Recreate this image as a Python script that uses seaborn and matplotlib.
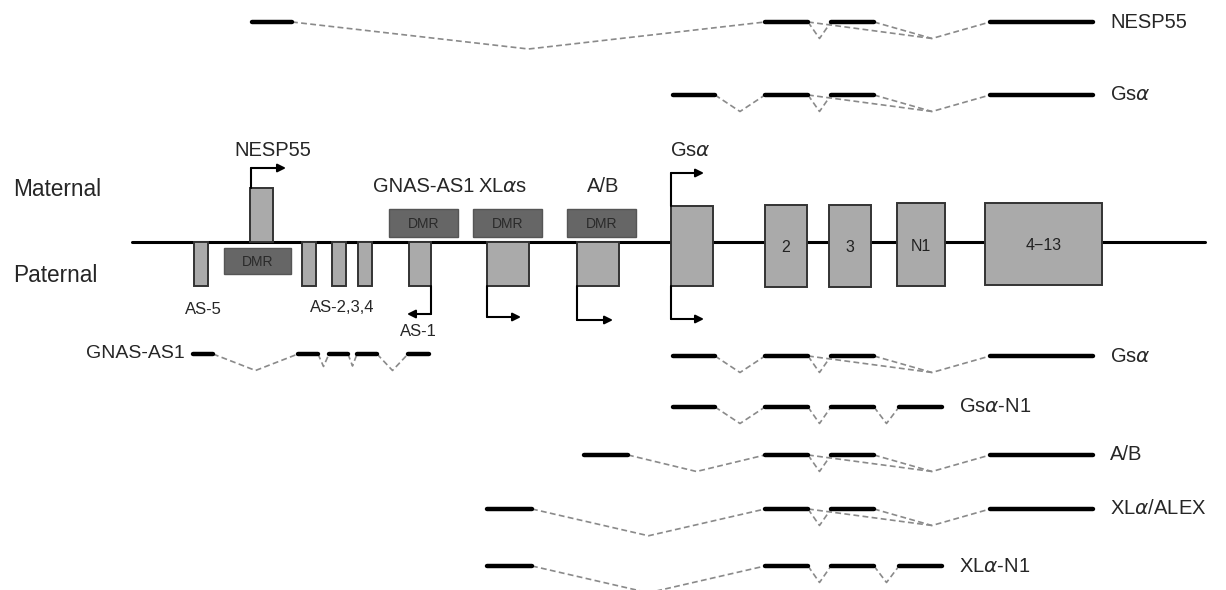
import numpy as np
import pandas as pd
import matplotlib.pyplot as plt
import seaborn as sns
from matplotlib.patches import Rectangle

# --- genomic map (pixel-like coordinates, y grows downwards) ---
LINE_Y = 242
LINE_X = (132, 1205)

# boxes hanging below the line (paternal promoters / antisense exons)
low_names = ["AS-5", "AS-2", "AS-3", "AS-4", "AS-1", "XLas", "A/B"]
low_left = [194, 302, 332, 358, 409, 487, 577]
low_right = [208, 316, 346, 372, 431, 529, 619]
low_bottom = 286

# NESP55 box above the line
nesp_box = (250, 273, 188)

# shared exons: Gsa exon 1, 2, 3, N1, 4-13
ex_names = ["", "2", "3", "N1", "4\u221213"]
ex_left = [671, 765, 829, 897, 985]
ex_right = [713, 807, 871, 945, 1102]
ex_top = [206, 205, 205, 203, 203]
ex_bottom = [286, 287, 287, 286, 285]

# DMR boxes
dmr_left = [224, 389, 473, 567]
dmr_right = [291, 458, 542, 636]
dmr_top = [248, 209, 209, 209]
dmr_bottom = [274, 237, 237, 237]

ALPHA = r"$\alpha$"

# --- transcripts ---
tx_names = ["NESP55", "Gs" + ALPHA, "GNAS-AS1", "Gs" + ALPHA, "Gs" + ALPHA + "-N1",
            "A/B", "XL" + ALPHA + "/ALEX", "XL" + ALPHA + "-N1"]
tx_y = [22, 95, 354, 356, 407, 455, 509, 566]
# exon segments (start, end)
tx_exons = [
    [(252, 292), (765, 808), (831, 874), (990, 1093)],
    [(673, 715), (765, 808), (831, 874), (990, 1093)],
    [(193, 213), (298, 318), (329, 348), (357, 377), (408, 429)],
    [(673, 715), (765, 808), (831, 874), (990, 1093)],
    [(673, 715), (765, 808), (831, 874), (899, 942)],
    [(584, 628), (765, 808), (831, 874), (990, 1093)],
    [(487, 532), (765, 808), (831, 874), (990, 1093)],
    [(487, 532), (765, 808), (831, 874), (899, 942)],
]
# extra splice: end of exon i jumps to the intron before exon j
tx_skip = [(1, 3), (1, 3), None, (1, 3), None, (1, 3), (1, 3), None]

# depth of the splice "V" against intron length
dip_gap = [10, 20, 140, 235]
dip_depth = [12, 16.5, 16.5, 27]


def dip(gap):
    return float(np.interp(gap, dip_gap, dip_depth))


sns.set_theme(style="white")
plt.rcParams["font.family"] = ["Liberation Sans", "DejaVu Sans"]
plt.rcParams["mathtext.fontset"] = "dejavusans"

fig = plt.figure(figsize=(12.26, 5.9), dpi=100)
ax = fig.add_axes([0, 0, 1, 1])
ax.set_xlim(0, 1226)
ax.set_ylim(590, 0)
ax.axis("off")

BOX = "#aaaaaa"
EDGE = "#333333"
DMR = "#666666"

# main chromosome line
ax.plot(LINE_X, [LINE_Y, LINE_Y], color="black", lw=2.2, zorder=1)

for l, r in zip(low_left, low_right):
    ax.add_patch(Rectangle((l, LINE_Y), r - l, low_bottom - LINE_Y, fc=BOX, ec=EDGE, lw=1.4, zorder=2))

l, r, t = nesp_box
ax.add_patch(Rectangle((l, t), r - l, LINE_Y - t, fc=BOX, ec=EDGE, lw=1.4, zorder=2))

for name, l, r, t, b in zip(ex_names, ex_left, ex_right, ex_top, ex_bottom):
    ax.add_patch(Rectangle((l, t), r - l, b - t, fc=BOX, ec=EDGE, lw=1.4, zorder=2))
    if name:
        ax.text((l + r) / 2, (t + b) / 2 + 2, name, ha="center", va="center", fontsize=11.5, color="#222222", zorder=3)

for l, r, t, b in zip(dmr_left, dmr_right, dmr_top, dmr_bottom):
    ax.add_patch(Rectangle((l, t), r - l, b - t, fc=DMR, ec="#555555", lw=1, zorder=2))
    ax.text((l + r) / 2, (t + b) / 2 + 1, "DMR", ha="center", va="center", fontsize=10, color="#2a2a2a", zorder=3)

# promoter arrows
arrow_kw = dict(arrowstyle="-|>", color="black", lw=1.5, mutation_scale=12, shrinkA=0, shrinkB=0)


def promoter(x0, y0, y1, x1):
    ax.plot([x0, x0], [y0, y1], color="black", lw=1.5, zorder=3)
    ax.annotate("", xy=(x1, y1), xytext=(x0, y1), arrowprops=arrow_kw, zorder=3)


promoter(251, nesp_box[2], 168, 286)          # NESP55
promoter(431, low_bottom, 314, 407)           # AS-1 (antisense)
promoter(487, low_bottom, 317, 521)           # XLas
promoter(577, low_bottom, 320, 613)           # A/B
promoter(671, ex_top[0], 173, 704)            # Gsa maternal
promoter(671, ex_bottom[0], 319, 704)         # Gsa paternal

ax.text(13, 190, "Maternal", ha="left", va="center", fontsize=16.3)
ax.text(13, 275, "Paternal", ha="left", va="center", fontsize=16.3)
ax.text(273, 150, "NESP55", ha="center", va="center", fontsize=14.5)
ax.text(424, 187, "GNAS-AS1", ha="center", va="center", fontsize=14.5)
ax.text(503, 187, "XL" + ALPHA + "s", ha="center", va="center", fontsize=14.5)
ax.text(603, 187, "A/B", ha="center", va="center", fontsize=14.5)
ax.text(690, 150, "Gs" + ALPHA, ha="center", va="center", fontsize=14.5)
ax.text(203, 310, "AS-5", ha="center", va="center", fontsize=12)
ax.text(342, 308, "AS-2,3,4", ha="center", va="center", fontsize=12)
ax.text(418, 332, "AS-1", ha="center", va="center", fontsize=12)

# transcripts: solid exons drawn with seaborn, dashed splice connectors
rows = []
for k, (name, y, exons) in enumerate(zip(tx_names, tx_y, tx_exons)):
    for j, (a, b) in enumerate(exons):
        rows.append({"x": a, "y": y, "seg": f"{k}-{j}"})
        rows.append({"x": b, "y": y, "seg": f"{k}-{j}"})
seg_df = pd.DataFrame(rows)
sns.lineplot(data=seg_df, x="x", y="y", units="seg", estimator=None, color="black",
             lw=3.2, sort=False, ax=ax, zorder=4)

dash_kw = dict(color="#8a8a8a", lw=1.2, ls=(0, (3.5, 2)), zorder=3)
for k, (name, y, exons) in enumerate(zip(tx_names, tx_y, tx_exons)):
    for (a0, a1), (b0, b1) in zip(exons[:-1], exons[1:]):
        mx = (a1 + b0) / 2
        ax.plot([a1, mx, b0], [y, y + dip(b0 - a1), y], **dash_kw)
    if tx_skip[k] is not None:
        i, j = tx_skip[k]
        a1 = exons[i][1]
        p1, q0 = exons[j - 1][1], exons[j][0]
        mx = (p1 + q0) / 2
        ax.plot([a1, mx], [y, y + dip(q0 - p1)], **dash_kw)
    end = exons[-1][1]
    if name == "GNAS-AS1":
        ax.text(exons[0][0] - 8, y, name, ha="right", va="center", fontsize=14)
    else:
        ax.text(end + 17, y, name, ha="left", va="center", fontsize=14.5)

ax.set_xlabel("")
ax.set_ylabel("")
fig.savefig("out.png", dpi=100, facecolor="white")
